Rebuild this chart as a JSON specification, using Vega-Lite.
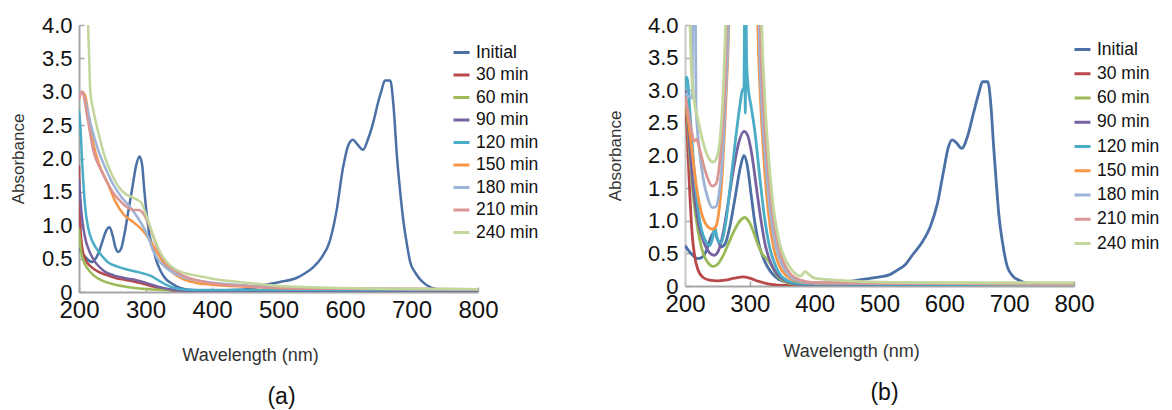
{
  "$schema": "https://vega.github.io/schema/vega-lite/v6.json",
  "background": "white",
  "padding": {"left": 9, "top": 14, "right": 0, "bottom": 0},
  "config": {
    "font": "Liberation Sans",
    "view": {"stroke": null},
    "concat": {"spacing": 67},
    "axis": {"grid": false, "labelFlush": false, "domainColor": "#A6A6A6", "domainWidth": 2, "tickColor": "#A6A6A6", "tickWidth": 1.5, "tickSize": -5, "labelColor": "#111111", "titleColor": "#333333", "titleFontWeight": "normal"},
    "legend": {"orient": "none", "symbolType": "stroke", "symbolStrokeWidth": 3, "symbolSize": 256, "labelFontSize": 17.5, "labelColor": "#111111", "labelOffset": 5, "padding": 0, "title": null}
  },
  "resolve": {"scale": {"color": "independent"}, "legend": {"color": "independent"}},
  "datasets": {
    "a": [
      {"s":"Initial","w":200,"a":0.67},{"s":"Initial","w":205,"a":0.58},{"s":"Initial","w":210,"a":0.52},{"s":"Initial","w":215,"a":0.47},{"s":"Initial","w":220,"a":0.45},{"s":"Initial","w":225,"a":0.5},{"s":"Initial","w":230,"a":0.6},{"s":"Initial","w":235,"a":0.75},{"s":"Initial","w":240,"a":0.9},{"s":"Initial","w":246,"a":0.97},{"s":"Initial","w":251,"a":0.83},{"s":"Initial","w":255,"a":0.66},{"s":"Initial","w":259,"a":0.6},{"s":"Initial","w":263,"a":0.64},{"s":"Initial","w":268,"a":0.85},{"s":"Initial","w":274,"a":1.2},{"s":"Initial","w":280,"a":1.55},{"s":"Initial","w":286,"a":1.9},{"s":"Initial","w":291,"a":2.03},{"s":"Initial","w":295,"a":1.9},{"s":"Initial","w":298,"a":1.55},{"s":"Initial","w":302,"a":1.15},{"s":"Initial","w":306,"a":0.85},{"s":"Initial","w":311,"a":0.68},{"s":"Initial","w":316,"a":0.48},{"s":"Initial","w":322,"a":0.33},{"s":"Initial","w":330,"a":0.2},{"s":"Initial","w":339,"a":0.13},{"s":"Initial","w":350,"a":0.07},{"s":"Initial","w":370,"a":0.03},{"s":"Initial","w":400,"a":0.02},{"s":"Initial","w":430,"a":0.03},{"s":"Initial","w":457,"a":0.05},{"s":"Initial","w":477,"a":0.1},{"s":"Initial","w":502,"a":0.15},{"s":"Initial","w":527,"a":0.21},{"s":"Initial","w":540,"a":0.28},{"s":"Initial","w":552,"a":0.37},{"s":"Initial","w":565,"a":0.52},{"s":"Initial","w":577,"a":0.76},{"s":"Initial","w":587,"a":1.2},{"s":"Initial","w":597,"a":1.86},{"s":"Initial","w":605,"a":2.2},{"s":"Initial","w":612,"a":2.28},{"s":"Initial","w":618,"a":2.22},{"s":"Initial","w":627,"a":2.13},{"s":"Initial","w":635,"a":2.3},{"s":"Initial","w":643,"a":2.56},{"s":"Initial","w":650,"a":2.85},{"s":"Initial","w":655,"a":3.02},{"s":"Initial","w":660,"a":3.17},{"s":"Initial","w":668,"a":3.17},{"s":"Initial","w":673,"a":2.78},{"s":"Initial","w":678,"a":2.05},{"s":"Initial","w":683,"a":1.5},{"s":"Initial","w":688,"a":1.05},{"s":"Initial","w":693,"a":0.72},{"s":"Initial","w":698,"a":0.45},{"s":"Initial","w":705,"a":0.3},{"s":"Initial","w":712,"a":0.2},{"s":"Initial","w":718,"a":0.14},{"s":"Initial","w":725,"a":0.09},{"s":"Initial","w":738,"a":0.04},{"s":"Initial","w":750,"a":0.02},{"s":"Initial","w":780,"a":0.01},
      {"s":"30 min","w":200,"a":1.9},{"s":"30 min","w":202,"a":1.0},{"s":"30 min","w":205,"a":0.65},{"s":"30 min","w":210,"a":0.48},{"s":"30 min","w":218,"a":0.38},{"s":"30 min","w":228,"a":0.31},{"s":"30 min","w":240,"a":0.26},{"s":"30 min","w":255,"a":0.21},{"s":"30 min","w":270,"a":0.18},{"s":"30 min","w":285,"a":0.15},{"s":"30 min","w":298,"a":0.12},{"s":"30 min","w":312,"a":0.08},{"s":"30 min","w":328,"a":0.04},{"s":"30 min","w":345,"a":0.02},{"s":"30 min","w":400,"a":0.01},{"s":"30 min","w":800,"a":0.01},
      {"s":"60 min","w":200,"a":0.95},{"s":"60 min","w":203,"a":0.62},{"s":"60 min","w":207,"a":0.46},{"s":"60 min","w":213,"a":0.35},{"s":"60 min","w":222,"a":0.25},{"s":"60 min","w":235,"a":0.17},{"s":"60 min","w":250,"a":0.12},{"s":"60 min","w":270,"a":0.08},{"s":"60 min","w":295,"a":0.05},{"s":"60 min","w":330,"a":0.03},{"s":"60 min","w":400,"a":0.02},{"s":"60 min","w":800,"a":0.02},
      {"s":"90 min","w":200,"a":1.7},{"s":"90 min","w":204,"a":1.15},{"s":"90 min","w":209,"a":0.82},{"s":"90 min","w":216,"a":0.6},{"s":"90 min","w":225,"a":0.44},{"s":"90 min","w":237,"a":0.32},{"s":"90 min","w":252,"a":0.25},{"s":"90 min","w":268,"a":0.21},{"s":"90 min","w":285,"a":0.18},{"s":"90 min","w":300,"a":0.14},{"s":"90 min","w":315,"a":0.09},{"s":"90 min","w":332,"a":0.05},{"s":"90 min","w":360,"a":0.02},{"s":"90 min","w":800,"a":0.02},
      {"s":"120 min","w":200,"a":2.72},{"s":"120 min","w":202,"a":2.5},{"s":"120 min","w":205,"a":1.9},{"s":"120 min","w":209,"a":1.3},{"s":"120 min","w":214,"a":0.95},{"s":"120 min","w":221,"a":0.74},{"s":"120 min","w":230,"a":0.6},{"s":"120 min","w":243,"a":0.45},{"s":"120 min","w":258,"a":0.38},{"s":"120 min","w":275,"a":0.33},{"s":"120 min","w":292,"a":0.29},{"s":"120 min","w":308,"a":0.24},{"s":"120 min","w":320,"a":0.17},{"s":"120 min","w":333,"a":0.1},{"s":"120 min","w":348,"a":0.05},{"s":"120 min","w":375,"a":0.03},{"s":"120 min","w":800,"a":0.03},
      {"s":"150 min","w":200,"a":2.9},{"s":"150 min","w":203,"a":3.0},{"s":"150 min","w":209,"a":2.95},{"s":"150 min","w":215,"a":2.6},{"s":"150 min","w":222,"a":2.2},{"s":"150 min","w":230,"a":1.92},{"s":"150 min","w":243,"a":1.63},{"s":"150 min","w":255,"a":1.35},{"s":"150 min","w":268,"a":1.15},{"s":"150 min","w":280,"a":1.06},{"s":"150 min","w":290,"a":0.98},{"s":"150 min","w":300,"a":0.87},{"s":"150 min","w":310,"a":0.72},{"s":"150 min","w":320,"a":0.55},{"s":"150 min","w":330,"a":0.4},{"s":"150 min","w":342,"a":0.28},{"s":"150 min","w":355,"a":0.2},{"s":"150 min","w":375,"a":0.14},{"s":"150 min","w":400,"a":0.11},{"s":"150 min","w":450,"a":0.08},{"s":"150 min","w":500,"a":0.06},{"s":"150 min","w":600,"a":0.05},{"s":"150 min","w":800,"a":0.04},
      {"s":"180 min","w":200,"a":2.95},{"s":"180 min","w":204,"a":3.0},{"s":"180 min","w":210,"a":2.85},{"s":"180 min","w":218,"a":2.5},{"s":"180 min","w":228,"a":2.15},{"s":"180 min","w":240,"a":1.85},{"s":"180 min","w":252,"a":1.6},{"s":"180 min","w":264,"a":1.42},{"s":"180 min","w":276,"a":1.28},{"s":"180 min","w":288,"a":1.12},{"s":"180 min","w":298,"a":0.95},{"s":"180 min","w":305,"a":0.8},{"s":"180 min","w":311,"a":0.63},{"s":"180 min","w":318,"a":0.5},{"s":"180 min","w":330,"a":0.37},{"s":"180 min","w":345,"a":0.27},{"s":"180 min","w":360,"a":0.21},{"s":"180 min","w":380,"a":0.17},{"s":"180 min","w":400,"a":0.14},{"s":"180 min","w":450,"a":0.1},{"s":"180 min","w":500,"a":0.07},{"s":"180 min","w":600,"a":0.05},{"s":"180 min","w":800,"a":0.04},
      {"s":"210 min","w":200,"a":2.9},{"s":"210 min","w":205,"a":3.0},{"s":"210 min","w":212,"a":2.65},{"s":"210 min","w":222,"a":2.1},{"s":"210 min","w":232,"a":1.85},{"s":"210 min","w":242,"a":1.65},{"s":"210 min","w":252,"a":1.48},{"s":"210 min","w":262,"a":1.36},{"s":"210 min","w":272,"a":1.27},{"s":"210 min","w":282,"a":1.23},{"s":"210 min","w":290,"a":1.23},{"s":"210 min","w":297,"a":1.17},{"s":"210 min","w":304,"a":1.03},{"s":"210 min","w":311,"a":0.85},{"s":"210 min","w":318,"a":0.65},{"s":"210 min","w":326,"a":0.5},{"s":"210 min","w":336,"a":0.38},{"s":"210 min","w":350,"a":0.28},{"s":"210 min","w":365,"a":0.21},{"s":"210 min","w":385,"a":0.16},{"s":"210 min","w":400,"a":0.13},{"s":"210 min","w":450,"a":0.09},{"s":"210 min","w":500,"a":0.06},{"s":"210 min","w":600,"a":0.05},{"s":"210 min","w":800,"a":0.04},
      {"s":"240 min","w":213,"a":4.2},{"s":"240 min","w":215,"a":3.6},{"s":"240 min","w":217,"a":3.0},{"s":"240 min","w":222,"a":2.7},{"s":"240 min","w":230,"a":2.35},{"s":"240 min","w":239,"a":2.02},{"s":"240 min","w":250,"a":1.75},{"s":"240 min","w":260,"a":1.57},{"s":"240 min","w":270,"a":1.47},{"s":"240 min","w":280,"a":1.42},{"s":"240 min","w":288,"a":1.38},{"s":"240 min","w":294,"a":1.33},{"s":"240 min","w":300,"a":1.18},{"s":"240 min","w":307,"a":0.98},{"s":"240 min","w":315,"a":0.76},{"s":"240 min","w":323,"a":0.58},{"s":"240 min","w":332,"a":0.45},{"s":"240 min","w":345,"a":0.34},{"s":"240 min","w":360,"a":0.28},{"s":"240 min","w":380,"a":0.24},{"s":"240 min","w":400,"a":0.2},{"s":"240 min","w":430,"a":0.16},{"s":"240 min","w":460,"a":0.13},{"s":"240 min","w":500,"a":0.09},{"s":"240 min","w":550,"a":0.07},{"s":"240 min","w":650,"a":0.05},{"s":"240 min","w":800,"a":0.04}
    ],
    "b": [
      {"s":"Initial","w":200,"a":0.62},{"s":"Initial","w":205,"a":0.55},{"s":"Initial","w":212,"a":0.47},{"s":"Initial","w":220,"a":0.42},{"s":"Initial","w":228,"a":0.45},{"s":"Initial","w":235,"a":0.6},{"s":"Initial","w":240,"a":0.75},{"s":"Initial","w":245,"a":0.83},{"s":"Initial","w":250,"a":0.72},{"s":"Initial","w":256,"a":0.6},{"s":"Initial","w":262,"a":0.65},{"s":"Initial","w":270,"a":0.95},{"s":"Initial","w":278,"a":1.4},{"s":"Initial","w":285,"a":1.8},{"s":"Initial","w":291,"a":2.0},{"s":"Initial","w":296,"a":1.85},{"s":"Initial","w":302,"a":1.4},{"s":"Initial","w":308,"a":0.95},{"s":"Initial","w":315,"a":0.6},{"s":"Initial","w":322,"a":0.4},{"s":"Initial","w":332,"a":0.22},{"s":"Initial","w":345,"a":0.1},{"s":"Initial","w":360,"a":0.05},{"s":"Initial","w":380,"a":0.03},{"s":"Initial","w":400,"a":0.03},{"s":"Initial","w":430,"a":0.04},{"s":"Initial","w":460,"a":0.08},{"s":"Initial","w":480,"a":0.11},{"s":"Initial","w":501,"a":0.14},{"s":"Initial","w":515,"a":0.17},{"s":"Initial","w":527,"a":0.24},{"s":"Initial","w":540,"a":0.33},{"s":"Initial","w":552,"a":0.49},{"s":"Initial","w":565,"a":0.66},{"s":"Initial","w":578,"a":0.9},{"s":"Initial","w":589,"a":1.25},{"s":"Initial","w":599,"a":1.77},{"s":"Initial","w":606,"a":2.12},{"s":"Initial","w":612,"a":2.24},{"s":"Initial","w":618,"a":2.2},{"s":"Initial","w":627,"a":2.11},{"s":"Initial","w":636,"a":2.3},{"s":"Initial","w":645,"a":2.65},{"s":"Initial","w":653,"a":2.95},{"s":"Initial","w":659,"a":3.13},{"s":"Initial","w":667,"a":3.13},{"s":"Initial","w":672,"a":2.75},{"s":"Initial","w":676,"a":2.14},{"s":"Initial","w":680,"a":1.6},{"s":"Initial","w":684,"a":1.1},{"s":"Initial","w":690,"a":0.65},{"s":"Initial","w":697,"a":0.3},{"s":"Initial","w":705,"a":0.16},{"s":"Initial","w":717,"a":0.08},{"s":"Initial","w":730,"a":0.03},{"s":"Initial","w":745,"a":0.01},{"s":"Initial","w":780,"a":0.01},
      {"s":"30 min","w":200,"a":3.0},{"s":"30 min","w":203,"a":2.4},{"s":"30 min","w":207,"a":1.5},{"s":"30 min","w":211,"a":0.8},{"s":"30 min","w":215,"a":0.45},{"s":"30 min","w":220,"a":0.25},{"s":"30 min","w":228,"a":0.13},{"s":"30 min","w":238,"a":0.09},{"s":"30 min","w":250,"a":0.08},{"s":"30 min","w":262,"a":0.09},{"s":"30 min","w":276,"a":0.12},{"s":"30 min","w":290,"a":0.14},{"s":"30 min","w":300,"a":0.12},{"s":"30 min","w":314,"a":0.07},{"s":"30 min","w":330,"a":0.03},{"s":"30 min","w":355,"a":0.01},{"s":"30 min","w":800,"a":0.01},
      {"s":"60 min","w":200,"a":3.0},{"s":"60 min","w":204,"a":2.5},{"s":"60 min","w":208,"a":1.9},{"s":"60 min","w":213,"a":1.35},{"s":"60 min","w":220,"a":0.85},{"s":"60 min","w":228,"a":0.5},{"s":"60 min","w":236,"a":0.35},{"s":"60 min","w":243,"a":0.3},{"s":"60 min","w":250,"a":0.33},{"s":"60 min","w":258,"a":0.45},{"s":"60 min","w":267,"a":0.65},{"s":"60 min","w":277,"a":0.87},{"s":"60 min","w":285,"a":1.0},{"s":"60 min","w":292,"a":1.05},{"s":"60 min","w":299,"a":0.98},{"s":"60 min","w":306,"a":0.82},{"s":"60 min","w":313,"a":0.62},{"s":"60 min","w":320,"a":0.48},{"s":"60 min","w":327,"a":0.41},{"s":"60 min","w":334,"a":0.3},{"s":"60 min","w":343,"a":0.15},{"s":"60 min","w":353,"a":0.07},{"s":"60 min","w":368,"a":0.03},{"s":"60 min","w":400,"a":0.02},{"s":"60 min","w":800,"a":0.02},
      {"s":"90 min","w":200,"a":3.0},{"s":"90 min","w":204,"a":2.6},{"s":"90 min","w":208,"a":2.05},{"s":"90 min","w":214,"a":1.4},{"s":"90 min","w":221,"a":0.95},{"s":"90 min","w":229,"a":0.67},{"s":"90 min","w":237,"a":0.52},{"s":"90 min","w":245,"a":0.47},{"s":"90 min","w":252,"a":0.55},{"s":"90 min","w":259,"a":0.82},{"s":"90 min","w":267,"a":1.3},{"s":"90 min","w":275,"a":1.8},{"s":"90 min","w":283,"a":2.2},{"s":"90 min","w":291,"a":2.37},{"s":"90 min","w":297,"a":2.3},{"s":"90 min","w":303,"a":2.02},{"s":"90 min","w":310,"a":1.52},{"s":"90 min","w":317,"a":1.02},{"s":"90 min","w":324,"a":0.62},{"s":"90 min","w":332,"a":0.36},{"s":"90 min","w":342,"a":0.18},{"s":"90 min","w":355,"a":0.08},{"s":"90 min","w":370,"a":0.03},{"s":"90 min","w":400,"a":0.02},{"s":"90 min","w":800,"a":0.02},
      {"s":"120 min","w":200,"a":3.0},{"s":"120 min","w":202,"a":3.2},{"s":"120 min","w":204,"a":3.15},{"s":"120 min","w":207,"a":2.75},{"s":"120 min","w":212,"a":2.05},{"s":"120 min","w":218,"a":1.35},{"s":"120 min","w":225,"a":0.88},{"s":"120 min","w":232,"a":0.68},{"s":"120 min","w":238,"a":0.62},{"s":"120 min","w":243,"a":0.75},{"s":"120 min","w":246,"a":0.9},{"s":"120 min","w":250,"a":0.72},{"s":"120 min","w":255,"a":0.66},{"s":"120 min","w":262,"a":0.92},{"s":"120 min","w":270,"a":1.55},{"s":"120 min","w":278,"a":2.25},{"s":"120 min","w":284,"a":2.72},{"s":"120 min","w":288,"a":2.98},{"s":"120 min","w":291,"a":3.05},{"s":"120 min","w":292,"a":4.3},{"s":"120 min","w":293,"a":2.65},{"s":"120 min","w":294,"a":4.3},{"s":"120 min","w":295,"a":3.45},{"s":"120 min","w":297,"a":3.1},{"s":"120 min","w":302,"a":2.75},{"s":"120 min","w":308,"a":2.35},{"s":"120 min","w":315,"a":1.7},{"s":"120 min","w":322,"a":1.1},{"s":"120 min","w":330,"a":0.62},{"s":"120 min","w":340,"a":0.3},{"s":"120 min","w":352,"a":0.12},{"s":"120 min","w":368,"a":0.05},{"s":"120 min","w":400,"a":0.03},{"s":"120 min","w":800,"a":0.02},
      {"s":"150 min","w":200,"a":2.9},{"s":"150 min","w":205,"a":2.55},{"s":"150 min","w":211,"a":2.05},{"s":"150 min","w":218,"a":1.5},{"s":"150 min","w":226,"a":1.1},{"s":"150 min","w":234,"a":0.92},{"s":"150 min","w":242,"a":0.87},{"s":"150 min","w":248,"a":0.92},{"s":"150 min","w":253,"a":1.2},{"s":"150 min","w":258,"a":1.8},{"s":"150 min","w":262,"a":2.6},{"s":"150 min","w":266,"a":3.5},{"s":"150 min","w":269,"a":4.3},{"s":"150 min","w":311,"a":4.3},{"s":"150 min","w":314,"a":3.4},{"s":"150 min","w":318,"a":2.55},{"s":"150 min","w":323,"a":1.75},{"s":"150 min","w":329,"a":1.1},{"s":"150 min","w":336,"a":0.62},{"s":"150 min","w":345,"a":0.32},{"s":"150 min","w":356,"a":0.16},{"s":"150 min","w":370,"a":0.08},{"s":"150 min","w":390,"a":0.05},{"s":"150 min","w":800,"a":0.03},
      {"s":"180 min","w":200,"a":2.95},{"s":"180 min","w":206,"a":2.9},{"s":"180 min","w":211,"a":2.88},{"s":"180 min","w":212,"a":4.3},{"s":"180 min","w":216,"a":4.3},{"s":"180 min","w":217,"a":2.75},{"s":"180 min","w":222,"a":2.1},{"s":"180 min","w":228,"a":1.65},{"s":"180 min","w":235,"a":1.35},{"s":"180 min","w":242,"a":1.2},{"s":"180 min","w":248,"a":1.22},{"s":"180 min","w":253,"a":1.45},{"s":"180 min","w":258,"a":2.0},{"s":"180 min","w":262,"a":2.8},{"s":"180 min","w":266,"a":3.7},{"s":"180 min","w":268,"a":4.3},{"s":"180 min","w":313,"a":4.3},{"s":"180 min","w":316,"a":3.3},{"s":"180 min","w":320,"a":2.5},{"s":"180 min","w":326,"a":1.7},{"s":"180 min","w":332,"a":1.1},{"s":"180 min","w":340,"a":0.62},{"s":"180 min","w":350,"a":0.32},{"s":"180 min","w":362,"a":0.15},{"s":"180 min","w":376,"a":0.08},{"s":"180 min","w":400,"a":0.05},{"s":"180 min","w":800,"a":0.03},
      {"s":"210 min","w":200,"a":2.9},{"s":"210 min","w":205,"a":2.65},{"s":"210 min","w":210,"a":2.38},{"s":"210 min","w":214,"a":2.22},{"s":"210 min","w":218,"a":2.25},{"s":"210 min","w":222,"a":2.12},{"s":"210 min","w":228,"a":1.88},{"s":"210 min","w":235,"a":1.65},{"s":"210 min","w":242,"a":1.53},{"s":"210 min","w":248,"a":1.57},{"s":"210 min","w":253,"a":1.85},{"s":"210 min","w":258,"a":2.45},{"s":"210 min","w":262,"a":3.2},{"s":"210 min","w":265,"a":4.3},{"s":"210 min","w":315,"a":4.3},{"s":"210 min","w":318,"a":3.4},{"s":"210 min","w":322,"a":2.6},{"s":"210 min","w":328,"a":1.8},{"s":"210 min","w":334,"a":1.2},{"s":"210 min","w":342,"a":0.7},{"s":"210 min","w":352,"a":0.36},{"s":"210 min","w":364,"a":0.17},{"s":"210 min","w":378,"a":0.09},{"s":"210 min","w":400,"a":0.05},{"s":"210 min","w":800,"a":0.03},
      {"s":"240 min","w":207,"a":4.3},{"s":"240 min","w":210,"a":3.3},{"s":"240 min","w":214,"a":2.85},{"s":"240 min","w":220,"a":2.55},{"s":"240 min","w":228,"a":2.2},{"s":"240 min","w":236,"a":1.97},{"s":"240 min","w":244,"a":1.9},{"s":"240 min","w":250,"a":2.0},{"s":"240 min","w":255,"a":2.35},{"s":"240 min","w":259,"a":3.0},{"s":"240 min","w":262,"a":3.8},{"s":"240 min","w":264,"a":4.3},{"s":"240 min","w":317,"a":4.3},{"s":"240 min","w":320,"a":3.5},{"s":"240 min","w":324,"a":2.7},{"s":"240 min","w":330,"a":1.85},{"s":"240 min","w":337,"a":1.15},{"s":"240 min","w":346,"a":0.65},{"s":"240 min","w":356,"a":0.38},{"s":"240 min","w":367,"a":0.22},{"s":"240 min","w":378,"a":0.15},{"s":"240 min","w":385,"a":0.22},{"s":"240 min","w":392,"a":0.17},{"s":"240 min","w":400,"a":0.12},{"s":"240 min","w":450,"a":0.08},{"s":"240 min","w":500,"a":0.06},{"s":"240 min","w":600,"a":0.05},{"s":"240 min","w":800,"a":0.05}
    ]
  },
  "hconcat": [
    {
      "width": 399,
      "height": 267,
      "data": {"name": "a"},
      "title": {"text": "(a)", "orient": "bottom", "fontSize": 23, "fontWeight": "normal", "color": "#111111", "offset": 22, "dx": 3, "anchor": "middle"},
      "mark": {"type": "line", "clip": true, "strokeWidth": 2.5, "interpolate": "monotone"},
      "encoding": {
        "x": {"field": "w", "type": "quantitative", "scale": {"domain": [200, 800], "nice": false},
              "axis": {"values": [200, 300, 400, 500, 600, 700, 800], "format": "d", "labelFontSize": 24, "labelPadding": 11, "title": "Wavelength (nm)", "titleFontSize": 18, "titleX": 171, "titleY": 63, "titleBaseline": "middle"}},
        "y": {"field": "a", "type": "quantitative", "scale": {"domain": [0, 4], "nice": false},
              "axis": {"values": [0, 0.5, 1, 1.5, 2, 2.5, 3, 3.5, 4], "labelExpr": "datum.value == 0 ? '0' : format(datum.value, '.1f')", "labelFontSize": 22, "labelPadding": 12, "title": "Absorbance", "titleFontSize": 17, "titleX": -61, "titleBaseline": "middle"}},
        "color": {"field": "s", "type": "nominal",
                  "scale": {"domain": ["Initial", "30 min", "60 min", "90 min", "120 min", "150 min", "180 min", "210 min", "240 min"], "range": ["#4A70A6", "#B9484A", "#9BBB59", "#7662A0", "#4BACC6", "#F79646", "#9CB4D6", "#D99694", "#C3D69B"]},
                  "legend": {"legendX": 373, "legendY": 18, "rowPadding": 4.5}}
      }
    },
    {
      "width": 389,
      "height": 261,
      "data": {"name": "b"},
      "title": {"text": "(b)", "orient": "bottom", "fontSize": 23, "fontWeight": "normal", "color": "#111111", "offset": 22, "dx": 5, "anchor": "middle"},
      "mark": {"type": "line", "clip": true, "strokeWidth": 2.8, "interpolate": "monotone"},
      "encoding": {
        "x": {"field": "w", "type": "quantitative", "scale": {"domain": [200, 800], "nice": false},
              "axis": {"values": [200, 300, 400, 500, 600, 700, 800], "format": "d", "labelFontSize": 24, "labelPadding": 11, "title": "Wavelength (nm)", "titleFontSize": 18, "titleX": 166, "titleY": 65, "titleBaseline": "middle"}},
        "y": {"field": "a", "type": "quantitative", "scale": {"domain": [0, 4], "nice": false},
              "axis": {"values": [0, 0.5, 1, 1.5, 2, 2.5, 3, 3.5, 4], "labelExpr": "datum.value == 0 ? '0' : format(datum.value, '.1f')", "labelFontSize": 22, "labelPadding": 12, "domainColor": "#C8C8C8", "title": "Absorbance", "titleFontSize": 17, "titleX": -70, "titleBaseline": "middle"}},
        "color": {"field": "s", "type": "nominal",
                  "scale": {"domain": ["Initial", "30 min", "60 min", "90 min", "120 min", "150 min", "180 min", "210 min", "240 min"], "range": ["#4A70A6", "#B9484A", "#9BBB59", "#7662A0", "#4BACC6", "#F79646", "#9CB4D6", "#D99694", "#C3D69B"]},
                  "legend": {"legendX": 388, "legendY": 15, "rowPadding": 6.25}}
      }
    }
  ]
}
